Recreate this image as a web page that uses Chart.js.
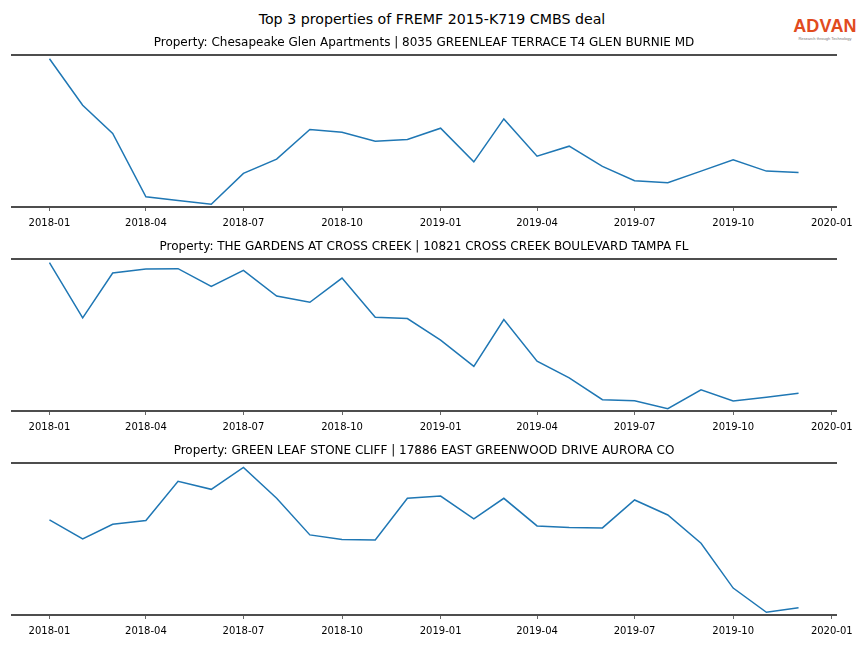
<!DOCTYPE html>
<html>
<head>
<meta charset="utf-8">
<script src="https://cdn.jsdelivr.net/npm/chart.js@4/dist/chart.umd.min.js"></script>
<style>
    html, body { margin: 0; padding: 0; background: #fff; }
    #page { position: relative; width: 864px; height: 648px; font-family: 'DejaVu Sans', sans-serif; }
    #suptitle { position: absolute; left: 0; width: 864px; top: 11px; text-align: center; font-size: 14.2px; color: #000; }
    #logo { position: absolute; left: 789px; top: 16px; width: 72px; text-align: center; }
    #logo .brand { font-family: 'Liberation Sans', sans-serif; font-weight: bold; font-size: 18px; color: #e14b1e; letter-spacing: 0.2px; line-height: 20px; }
    #logo .tag { font-family: 'Liberation Sans', sans-serif; font-size: 4px; color: #777; line-height: 5px; }
    .panel { position: absolute; left: 0; width: 864px; height: 205px; }
</style>
</head>
<body>
<div id="page">
    <div id="suptitle">Top 3 properties of FREMF 2015-K719 CMBS deal</div>
    <div id="logo"><div class="brand">ADVAN</div><div class="tag">Research through Technology</div></div>
    <div class="panel" style="top: 30px;"><canvas id="chart0"></canvas></div>
    <div class="panel" style="top: 234px;"><canvas id="chart1"></canvas></div>
    <div class="panel" style="top: 438px;"><canvas id="chart2"></canvas></div>
</div>
<script>
// Monthly observations, 2018-01 .. 2019-12
const months = [
    '2018-01-01', '2018-02-01', '2018-03-01', '2018-04-01', '2018-05-01', '2018-06-01',
    '2018-07-01', '2018-08-01', '2018-09-01', '2018-10-01', '2018-11-01', '2018-12-01',
    '2019-01-01', '2019-02-01', '2019-03-01', '2019-04-01', '2019-05-01', '2019-06-01',
    '2019-07-01', '2019-08-01', '2019-09-01', '2019-10-01', '2019-11-01', '2019-12-01'
];

// x tick labels (quarterly)
const tickLabels = ['2018-01', '2018-04', '2018-07', '2018-10', '2019-01', '2019-04', '2019-07', '2019-10', '2020-01'];

const titles = [
    'Property: Chesapeake Glen Apartments | 8035 GREENLEAF TERRACE T4 GLEN BURNIE MD',
    'Property: THE GARDENS AT CROSS CREEK | 10821 CROSS CREEK BOULEVARD TAMPA FL',
    'Property: GREEN LEAF STONE CLIFF | 17886 EAST GREENWOOD DRIVE AURORA CO'
];

// values (y axis is hidden, relative units)
const chesapeake = [148.7, 102, 73.7, 10.3, 6.5, 2.7, 33.7, 48, 77.7, 75, 66, 67.7,
                    79, 45.3, 88.3, 51, 61, 40.7, 26.3, 24.3, 36, 47.3, 36, 34.7];
const gardens    = [148.7, 93.3, 138.3, 142.3, 142.7, 125, 141, 115.3, 109, 133.3, 94, 92.7,
                    71, 44.7, 91.7, 50, 33.3, 11.3, 10.3, 2.3, 21.3, 10, 13.9, 17.7];
const greenLeaf  = [95.3, 76.3, 91, 94.7, 134, 126, 148, 117, 80.3, 75.7, 75.3, 117,
                    119.3, 96.3, 117, 89.3, 87.7, 87.3, 115.3, 100.3, 72, 27, 2.7, 7.3];

const seriesList = [chesapeake, gardens, greenLeaf];

// days since 2018-01-01
const base = Date.UTC(2018, 0, 1);
const toDay = (s) => {
    const p = s.split('-').map(Number);
    return (Date.UTC(p[0], p[1] - 1, p[2] || 1) - base) / 86400000;
};
const xDays = months.map(toDay);
const tickDays = tickLabels.map(toDay);

// matplotlib style 5% margins
const span = xDays[xDays.length - 1] - xDays[0];
const xMin = xDays[0] - span * 0.05;
const xMax = xDays[xDays.length - 1] + span * 0.05;

const spineColor = '#4d4d4d';

function makeChart(id, title, values) {
    const ctx = document.getElementById(id).getContext('2d');
    return new Chart(ctx, {
        type: 'line',
        data: {
            datasets: [{
                data: values.map((v, i) => ({ x: xDays[i], y: v })),
                borderColor: '#1f77b4',
                borderWidth: 1.5,
                pointRadius: 0,
                fill: false,
                tension: 0
            }]
        },
        options: {
            responsive: true,
            maintainAspectRatio: false,
            animation: false,
            layout: { padding: { left: 12, right: 28, top: 0, bottom: 0 } },
            plugins: {
                legend: { display: false },
                tooltip: { enabled: false },
                title: {
                    display: true,
                    text: title,
                    color: '#000',
                    font: { family: "'DejaVu Sans', sans-serif", size: 12, weight: 'normal' },
                    padding: { top: 6, bottom: 5 }
                }
            },
            scales: {
                x: {
                    type: 'linear',
                    position: 'bottom',
                    min: xMin,
                    max: xMax,
                    afterBuildTicks: (scale) => {
                        scale.ticks = tickDays.map(v => ({ value: v }));
                    },
                    grid: { drawOnChartArea: false, drawTicks: true, tickLength: 4, color: '#666' },
                    border: { display: true, color: spineColor, width: 2 },
                    ticks: {
                        autoSkip: false,
                        maxRotation: 0,
                        padding: 6,
                        color: '#000',
                        font: { family: "'DejaVu Sans', sans-serif", size: 10 },
                        callback: (v) => tickLabels[tickDays.indexOf(v)]
                    }
                },
                x2: {
                    type: 'linear',
                    position: 'top',
                    min: xMin,
                    max: xMax,
                    grid: { display: false, drawTicks: false },
                    border: { display: true, color: spineColor, width: 2 },
                    ticks: { display: false }
                },
                y: {
                    display: false,
                    min: 0,
                    max: 152
                }
            }
        }
    });
}

seriesList.forEach((values, i) => makeChart('chart' + i, titles[i], values));
</script>
</body>
</html>
